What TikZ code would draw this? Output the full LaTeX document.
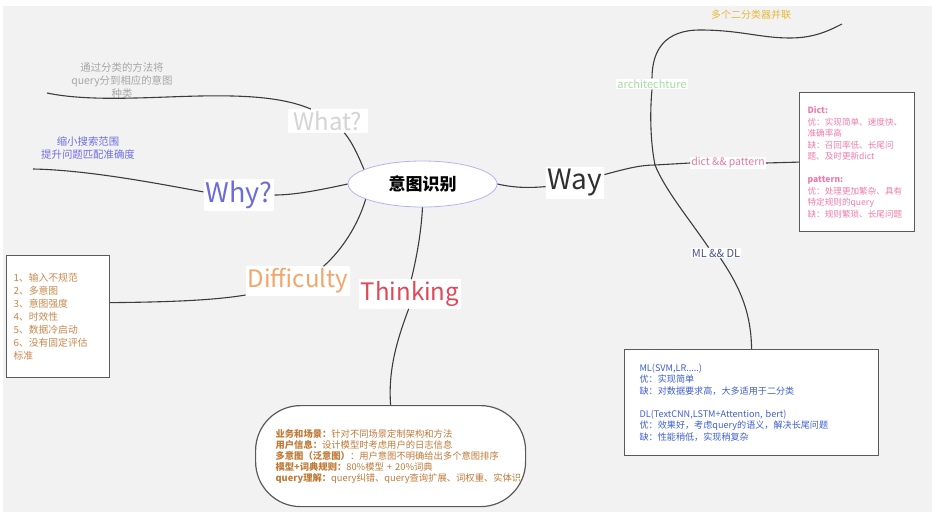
\documentclass[tikz,border=0pt]{standalone}
\usepackage{fontspec}
\setmainfont{Noto Sans CJK SC}
\usetikzlibrary{shapes.geometric}
\definecolor{bgGray}{HTML}{F2F2F2}
\definecolor{lineGray}{HTML}{3C3C3C}
\definecolor{boxGray}{HTML}{5A5A5A}
\definecolor{ovalBlue}{HTML}{B4B4F0}
\definecolor{whatGray}{HTML}{D4D4D4}
\definecolor{whatTxt}{HTML}{A6A6A6}
\definecolor{whyBlue}{HTML}{6B6BDB}
\definecolor{whyTxt}{HTML}{6E6EE6}
\definecolor{wayBlack}{HTML}{303030}
\definecolor{diffOrange}{HTML}{F2A66A}
\definecolor{diffTxt}{HTML}{C8884C}
\definecolor{thinkRed}{HTML}{E04858}
\definecolor{thinkTxt}{HTML}{C07A38}
\definecolor{archGreen}{HTML}{A3DCA3}
\definecolor{parGold}{HTML}{E6B83C}
\definecolor{dpPink}{HTML}{E8789E}
\definecolor{dictTxt}{HTML}{F07CAC}
\definecolor{mlNavy}{HTML}{4A5490}
\definecolor{mlTxt}{HTML}{3F5FD0}
\newcommand{\fs}[2]{\fontsize{#1}{#2}\selectfont}

\begin{document}
\begin{tikzpicture}[x=1pt,y=-1pt,
  branch/.style={draw=lineGray,line width=1.1pt},
  lbl/.style={fill=white,inner sep=2pt},
  box/.style={draw=boxGray,line width=1.2pt,fill=white,anchor=north west,align=left},
  leaf/.style={align=center}]
  \useasboundingbox (0,0) rectangle (939,517);
  \fill[white] (0,0) rectangle (939,517);
  \fill[bgGray] (3,6) rectangle (932,512);

  % centre and first level
  \node[ellipse,draw=ovalBlue,fill=white,line width=0.8pt,minimum width=149pt,minimum height=46pt,
    font=\fs{17}{20}\bfseries] (root) at (422.5,184) {意图识别};
  \node[lbl,inner xsep=6pt,text=whatGray,font=\fs{24}{28}] (what) at (328,121) {What?};
  \node[lbl,text=whyBlue,font=\fs{27}{30}] (why) at (239,195) {Why?};
  \node[lbl,text=wayBlack,font=\fs{28}{32}] (way) at (575,183) {Way};
  \node[lbl,text=diffOrange,font=\fs{24}{28}] (diff) at (298,281) {Difficulty};
  \node[lbl,text=thinkRed,font=\fs{24}{28}] (think) at (410,294) {Thinking};

  % second level
  \node[lbl,inner sep=1pt,text=archGreen,font=\fs{11}{13}] (arch) at (652,84) {architechture};
  \node[lbl,inner sep=1pt,text=dpPink,font=\fs{10.5}{12}] (dp) at (728,163) {dict \&\& pattern};
  \node[lbl,inner sep=1pt,text=mlNavy,font=\fs{11}{13}] (mldl) at (716,253) {ML \&\& DL};

  \node[leaf,text=whatTxt,font=\fs{10.4}{13}] (whatLeaf) at (122,81) {通过分类的方法将\\query分到相应的意图\\种类};
  \node[leaf,text=whyTxt,font=\fs{10.4}{13}] (whyLeaf) at (88,148) {缩小搜索范围\\提升问题匹配准确度};
  \node[text=parGold,font=\fs{10}{12}] (par) at (751,15) {多个二分类器并联};

  \node[box,text=diffTxt,font=\fs{9.8}{13},text width=89pt,inner xsep=7pt,minimum height=122pt]
    (diffBox) at (6,255) {1、输入不规范\\2、多意图\\3、意图强度\\4、时效性\\5、数据冷启动\\6、没有固定评估\\标准};
  \node[box,text=dictTxt,font=\fs{8.6}{11.5},text width=99pt,inner xsep=8pt,minimum height=139pt]
    (dictBox) at (799,92) {\textbf{Dict:}\\优：实现简单、速度快、\\准确率高\\缺：召回率低、长尾问\\题、及时更新dict\\[11.5pt]
    \textbf{pattern:}\\优：处理更加繁杂、具有\\特定规则的query\\缺：规则繁琐、长尾问题};
  \node[box,text=mlTxt,font=\fs{9.1}{11.5},text width=224pt,inner xsep=15pt,minimum height=106pt]
    (mlBox) at (624,349) {ML(SVM,LR.....)\\优：实现简单\\缺：对数据要求高，大多适用于二分类\\[11.5pt]
    DL(TextCNN,LSTM+Attention, bert)\\优：效果好，考虑query的语义，解决长尾问题\\缺：性能稍低，实现稍复杂};
  \node[box,rounded corners=45pt,text=thinkTxt,font=\fs{9.3}{11},text width=230pt,inner xsep=20pt,minimum height=101pt]
    (thinkBox) at (255,405) {\textbf{业务和场景：}针对不同场景定制架构和方法\\\textbf{用户信息：}设计模型时考虑用户的日志信息\\
    \textbf{多意图（泛意图）}：用户意图不明确给出多个意图排序\\\textbf{模型+词典规则：}80\%模型 + 20\%词典\\
    \textbf{query理解：}query纠错、query查询扩展、词权重、实体识};

  \coordinate (whatEnd) at (47,93);
  \coordinate (whyEnd) at (33,169);
  \coordinate (archEnd) at (842,24);
  \coordinate (jn) at (655,165);

  % branches
  \draw[branch] (root.166) .. controls (358,155) and (352,142) .. (what.-36);
  \draw[branch] (what.145) .. controls (285,98) and (250,95) .. (200,96)
    .. controls (150,97) and (90,102) .. (whatEnd);
  \draw[branch] (root.west) .. controls (320,190) and (295,195) .. (why.east);
  \draw[branch] (why.175) .. controls (165,185) and (90,170) .. (whyEnd);
  \draw[branch] (root.195) .. controls (358,225) and (342,250) .. (diff.30);
  \draw[branch] (diff.195) .. controls (215,300) and (175,302) .. (diffBox.15);
  \draw[branch] (root.south) .. controls (421,235) and (416,260) .. (think.85);
  \draw[branch] (think.265) .. controls (397,340) and (388,370) .. (thinkBox.north);
  \draw[branch] (root.east) .. controls (515,188) and (530,188) .. (way.187);
  \draw[branch] (way.16) .. controls (625,169) and (640,165) .. (jn) -- (dp.west);
  \draw[branch] (dp.east) -- (dictBox.west);
  \draw[branch] (jn) .. controls (650,140) and (650,110) .. (arch.south);
  \draw[branch] (arch.north) .. controls (652,50) and (665,30) .. (700,30)
    .. controls (740,30) and (760,38) .. (790,38) .. controls (815,38) and (830,30) .. (archEnd);
  \draw[branch] (jn) .. controls (665,190) and (690,220) .. (mldl.144);
  \draw[branch] (mldl.-50) .. controls (742,290) and (751,315) .. (mlBox.north);
\end{tikzpicture}
\end{document}
